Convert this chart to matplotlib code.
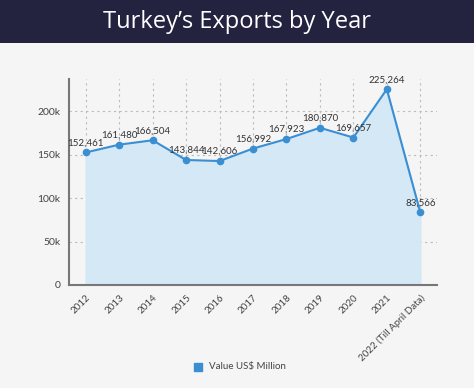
import matplotlib
matplotlib.use("Agg")
import matplotlib.pyplot as plt
from matplotlib.patches import Rectangle

# データ
years = ["2012", "2013", "2014", "2015", "2016", "2017", "2018", "2019",
         "2020", "2021", "2022 (Till April Data)"]
values = [152461, 161480, 166504, 143844, 142606, 156992, 167923, 180870,
          169657, 225264, 83566]
ytick_vals = [0, 50000, 100000, 150000, 200000]
ytick_labels = ["0", "50k", "100k", "150k", "200k"]

plt.rcParams['font.family'] = ['Lato', 'DejaVu Sans']

fig = plt.figure(figsize=(4.74, 3.88), dpi=100)
fig.patch.set_facecolor("#f5f5f5")

# タイトルバー
fig.patches.append(Rectangle((0, 1 - 43 / 388), 1, 43 / 388, transform=fig.transFigure,
                             facecolor="#23223f", edgecolor="none", zorder=0))
fig.text(0.5, 1 - 22 / 388, "Turkey\u2019s Exports by Year", color="white",
         fontsize=17, ha="center", va="center", family=['Open Sans', 'DejaVu Sans'])

ax = fig.add_axes([69 / 474, 1 - 285 / 388, (437 - 69) / 474, (285 - 79) / 388])
ax.set_facecolor("#f5f5f5")

x = list(range(len(years)))
line_color = "#3a8fd3"
ax.fill_between(x, values, 0, color="#d5e8f6", zorder=1)
ax.plot(x, values, color=line_color, lw=1.5, marker="o", ms=4.5, zorder=3)

for xi, v in zip(x, values):
    ax.annotate("{:,}".format(v), (xi, v), xytext=(0, 3.5), textcoords="offset points",
                ha="center", va="bottom", fontsize=7, color="#333333", zorder=4)

ax.set_xlim(-0.5, 10.5)
ax.set_ylim(0, 237000)
ax.set_xticks(x)
ax.set_xticklabels(years, rotation=45, ha="right", rotation_mode="anchor",
                   fontsize=7, color="#444444")
ax.set_yticks(ytick_vals)
ax.set_yticklabels(ytick_labels, fontsize=7.5, color="#444444")
ax.tick_params(length=0, pad=6)

ax.grid(True, color="#bbbbbb", linestyle=(0, (2, 3)), lw=0.8, zorder=0)
ax.set_axisbelow(True)
for s in ["top", "right"]:
    ax.spines[s].set_visible(False)
for s in ["left", "bottom"]:
    ax.spines[s].set_color("#777777")
    ax.spines[s].set_linewidth(1.5)

# 凡例
h = ax.scatter([], [], marker="s", s=35, color="#3a8fd3", label="Value US$ Million")
fig.legend(handles=[h], loc="center", bbox_to_anchor=(0.5, 1 - 367 / 388),
           frameon=False, fontsize=7, handletextpad=0.2, labelcolor="#444444")

plt.savefig("out.png", dpi=100, facecolor=fig.get_facecolor())
